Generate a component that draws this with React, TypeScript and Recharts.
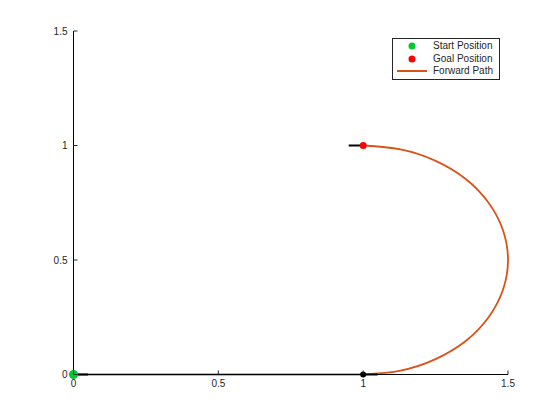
import { ComposedChart, Line, XAxis, YAxis } from "recharts";

// forward path: straight run along y = 0, then the half turn up to the goal
const straightX = [0, 1];
const straightY = [0, 0];
const arcX = [1, 1.129, 1.25, 1.354, 1.433, 1.483, 1.5, 1.483, 1.433, 1.354, 1.25, 1.129, 1];
const arcY = [0, 0.017, 0.067, 0.146, 0.25, 0.371, 0.5, 0.629, 0.75, 0.854, 0.933, 0.983, 1];

const startPos = { x: 0, y: 0 };
const goalPos = { x: 1, y: 1 };
const midPos = { x: 1, y: 0 };

// short heading strokes (start, mid, goal)
const headStart = [{ x: 0, y: 0 }, { x: 0.05, y: 0 }];
const headMid = [{ x: 1, y: 0 }, { x: 1.05, y: 0 }];
const headGoal = [{ x: 0.95, y: 1 }, { x: 1, y: 1 }];

const axisTicks = [0, 0.5, 1, 1.5];

const straightData = straightX.map((x, i) => ({ x, y: straightY[i] }));
const arcData = arcX.map((x, i) => ({ x, y: arcY[i] }));

const ORANGE = "#d95319";
const GREEN = "#00c832";
const RED = "#ff0000";
const TEXT = "#262626";
const FONT = "'Liberation Sans', Arial, sans-serif";
const TM = 4;

function XTick(props: any) {
  const { x, y, payload } = props;
  return (
    <g>
      <line x1={x} y1={y - TM} x2={x} y2={y - TM - 4} stroke={TEXT} strokeWidth={1} />
      <text x={x} y={y} dy="0.85em" textAnchor="middle" fontSize={10} fill={TEXT} fontFamily={FONT}>
        {payload.value}
      </text>
    </g>
  );
}

function YTick(props: any) {
  const { x, y, payload } = props;
  return (
    <g>
      <line x1={x + TM + 2} y1={y} x2={x + TM + 6} y2={y} stroke={TEXT} strokeWidth={1} />
      <text x={x} y={y} dy="0.35em" textAnchor="end" fontSize={10} fill={TEXT} fontFamily={FONT}>
        {payload.value}
      </text>
    </g>
  );
}

function LegendBox() {
  const row = (icon: React.ReactNode, label: string) => (
    <div style={{ display: "flex", alignItems: "center", height: 12.5 }}>
      <svg width={34} height={12} style={{ flex: "none" }}>
        {icon}
      </svg>
      <span style={{ marginLeft: 3 }}>{label}</span>
    </div>
  );
  return (
    <div
      style={{
        position: "absolute",
        left: 392,
        top: 38,
        width: 100,
        border: "1px solid #262626",
        background: "#fff",
        padding: "1px 3px 1px 3px",
        fontFamily: FONT,
        fontSize: 10,
        color: TEXT,
        lineHeight: "12px",
      }}
    >
      {row(<circle cx={16} cy={6} r={3.5} fill={GREEN} />, "Start Position")}
      {row(<circle cx={16} cy={6} r={3.5} fill={RED} />, "Goal Position")}
      {row(<line x1={1} y1={6} x2={31} y2={6} stroke={ORANGE} strokeWidth={2} />, "Forward Path")}
    </div>
  );
}

export default function App() {
  return (
    <div style={{ position: "fixed", left: 0, top: 0, width: 560, height: 420, background: "#fff" }}>
      <ComposedChart width={560} height={420} margin={{ top: 31, right: 52, bottom: 0, left: 0 }}>
        <XAxis
          type="number"
          dataKey="x"
          domain={[0, 1.5]}
          ticks={axisTicks}
          height={45.5}
          tickSize={0}
          tickMargin={TM}
          tick={<XTick />}
          axisLine={{ stroke: "#000" }}
        />
        <YAxis
          type="number"
          dataKey="y"
          domain={[0, 1.5]}
          ticks={axisTicks}
          width={73.5}
          tickSize={0}
          tickMargin={TM + 2}
          tick={<YTick />}
          axisLine={{ stroke: "#000" }}
        />
        <Line data={straightData} dataKey="y" stroke={ORANGE} strokeWidth={1.8} dot={false} isAnimationActive={false} />
        <Line data={arcData} dataKey="y" stroke={ORANGE} strokeWidth={1.8} dot={false} type="natural" isAnimationActive={false} />
        <Line data={headStart} dataKey="y" stroke="#000" strokeWidth={2} dot={false} isAnimationActive={false} />
        <Line data={headMid} dataKey="y" stroke="#000" strokeWidth={2} dot={false} isAnimationActive={false} />
        <Line data={headGoal} dataKey="y" stroke="#000" strokeWidth={2} dot={false} isAnimationActive={false} />
        <Line data={[midPos]} dataKey="y" stroke="none" dot={{ r: 3, fill: "#000", stroke: "none" }} isAnimationActive={false} />
        <Line data={[startPos]} dataKey="y" stroke="none" dot={{ r: 4.5, fill: GREEN, stroke: "none" }} isAnimationActive={false} />
        <Line data={[goalPos]} dataKey="y" stroke="none" dot={{ r: 3.5, fill: RED, stroke: "none" }} isAnimationActive={false} />
      </ComposedChart>
      <LegendBox />
    </div>
  );
}
